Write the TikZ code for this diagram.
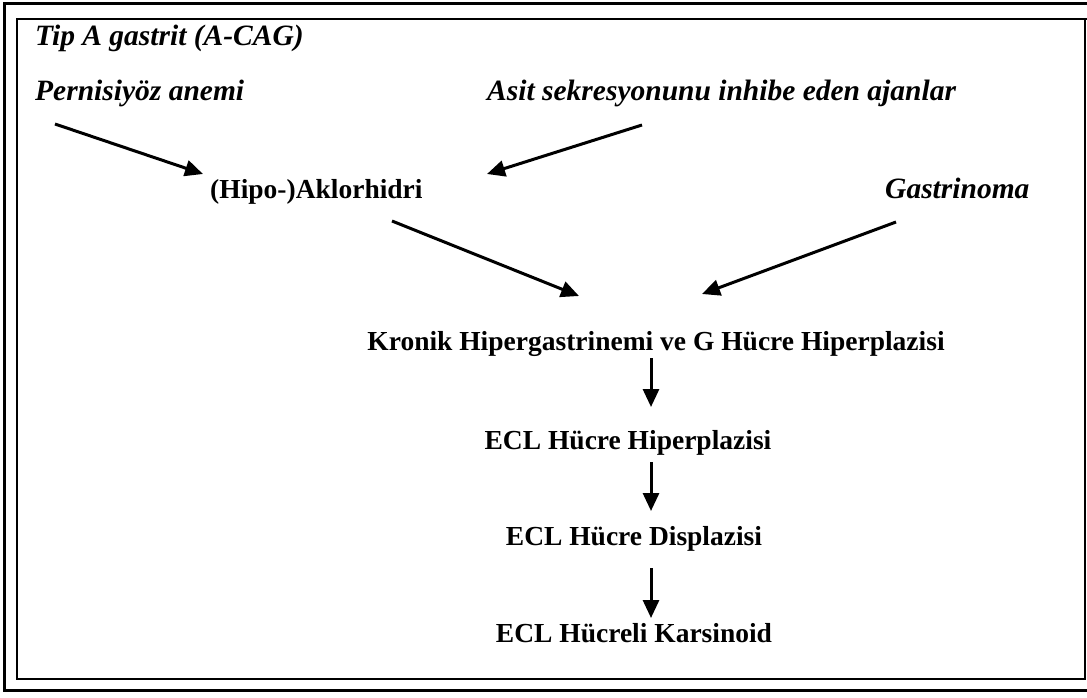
\documentclass[tikz,border=0pt]{standalone}
\usepackage{fontspec}
\setmainfont{Liberation Serif}
\usetikzlibrary{arrows.meta}
\tikzset{
  up/.style={inner sep=0pt, font=\fontsize{27.5}{32}\selectfont\bfseries},
  it/.style={inner sep=0pt, font=\fontsize{29.5}{34}\selectfont\bfseries\itshape},
  arr/.style={line width=3pt, -{Triangle[length=18pt,width=16pt]}},
  outerframe/.style={line width=3pt},
  innerframe/.style={line width=2pt}
}
\begin{document}
\begin{tikzpicture}[x=1pt,y=-1pt]
\useasboundingbox (0,0) rectangle (1087,697);
% frames
\draw[outerframe] (1090,3.5) -- (4.5,3.5) -- (4.5,690.5) -- (1090,690.5);
\draw[innerframe] (1090,19) -- (17,19) -- (17,679) -- (1085,679) -- (1085,19);
% texts
\node[it, anchor=base west] (tip) at (35,45) {Tip A gastrit (A-CAG)};
\node[it, anchor=base west] (pern) at (35,100) {Pernisiyöz anemi};
\node[it, anchor=base west] (asit) at (487,100) {Asit sekresyonunu inhibe eden ajanlar};
\node[up, anchor=base west] (hipo) at (210,198) {(Hipo-)Aklorhidri};
\node[it, anchor=base west] (gast) at (885,198) {Gastrinoma};
\node[up, anchor=base] (kron) at (656,350) {Kronik Hipergastrinemi ve G Hücre Hiperplazisi};
\node[up, anchor=base] (eclh) at (628,449) {ECL Hücre Hiperplazisi};
\node[up, anchor=base] (ecld) at (634,545) {ECL Hücre Displazisi};
\node[up, anchor=base] (eclk) at (634,642) {ECL Hücreli Karsinoid};
% arrow end points
\coordinate (a1s) at (55,124);  \coordinate (a1e) at (203,174);
\coordinate (a2s) at (642,125); \coordinate (a2e) at (487,174);
\coordinate (a3s) at (392,221); \coordinate (a3e) at (579,296);
\coordinate (a4s) at (896,222); \coordinate (a4e) at (702,294);
\coordinate (v1s) at (651,358); \coordinate (v1e) at (651,407);
\coordinate (v2s) at (651,462); \coordinate (v2e) at (651,511);
\coordinate (v3s) at (651,568); \coordinate (v3e) at (651,618);
% arrows
\draw[arr] (a1s) -- (a1e);
\draw[arr] (a2s) -- (a2e);
\draw[arr] (a3s) -- (a3e);
\draw[arr] (a4s) -- (a4e);
\draw[arr] (v1s) -- (v1e);
\draw[arr] (v2s) -- (v2e);
\draw[arr] (v3s) -- (v3e);
\end{tikzpicture}
\end{document}
